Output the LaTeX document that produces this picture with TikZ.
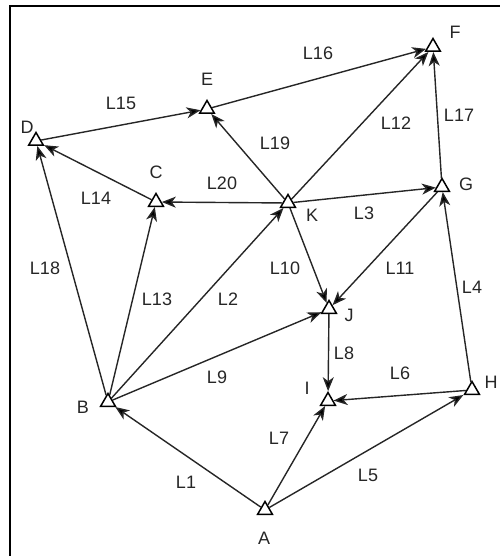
\documentclass[tikz,border=0pt]{standalone}
\usepackage{fontspec}
\setmainfont{Liberation Sans}
\usepackage{tikz}
\usetikzlibrary{arrows.meta,shapes.geometric}

\begin{document}
\begin{tikzpicture}[
  x=1pt, y=-1pt,
  every node/.style={font=\fontsize{18}{21}\selectfont},
  station/.style={regular polygon, regular polygon sides=3, draw=black, fill=white,
    line width=1.5pt, minimum size=17pt, inner sep=0pt},
  tag/.style={text=black!85, inner sep=1pt},
  link/.style={-{Stealth[length=14pt, width=11pt, inset=4pt, fill=black]}, line width=1.4pt, draw=black!85},
]
\useasboundingbox (0,0) rectangle (499,556);

% Frame
\draw[line width=2pt] (505,6) -- (10,6) -- (10,560);

% Stations
\node[station] (A) at (265,510) {};
\node[station] (B) at (108,402) {};
\node[station] (C) at (156,202) {};
\node[station] (D) at (36,141) {};
\node[station] (E) at (207,109) {};
\node[station] (F) at (433,47) {};
\node[station] (G) at (442,187) {};
\node[station] (H) at (472,390) {};
\node[station] (I) at (328,401) {};
\node[station] (J) at (329,309) {};
\node[station] (K) at (288,203) {};

% Station names
\node[tag] (nameA) at (264,538) {A};
\node[tag] (nameB) at (83,407) {B};
\node[tag] (nameC) at (156,172) {C};
\node[tag] (nameD) at (27,127) {D};
\node[tag] (nameE) at (207,79) {E};
\node[tag] (nameF) at (455,32) {F};
\node[tag] (nameG) at (466,184) {G};
\node[tag] (nameH) at (491,382) {H};
\node[tag] (nameI) at (307,388) {I};
\node[tag] (nameJ) at (349,315) {J};
\node[tag] (nameK) at (312,215) {K};

% Links
\draw[link] (A) -- (B);
\draw[link] (B) -- (K);
\draw[link] (K) -- (G);
\draw[link] (H) -- (G);
\draw[link] (A) -- (H);
\draw[link] (H) -- (I);
\draw[link] (A) -- (I);
\draw[link] (J) -- (I);
\draw[link] (B) -- (J);
\draw[link] (K) -- (J);
\draw[link] (G) -- (J);
\draw[link] (K) -- (F);
\draw[link] (B) -- (C);
\draw[link] (C) -- (D);
\draw[link] (D) -- (E);
\draw[link] (E) -- (F);
\draw[link] (G) -- (F);
\draw[link] (B) -- (D);
\draw[link] (K) -- (E);
\draw[link] (K) -- (C);

% Link labels
\node[tag] (lab1) at (186,482) {L1};
\node[tag] (lab2) at (228,299) {L2};
\node[tag] (lab3) at (364,213) {L3};
\node[tag] (lab4) at (472,287) {L4};
\node[tag] (lab5) at (368,475) {L5};
\node[tag] (lab6) at (400,373) {L6};
\node[tag] (lab7) at (279,438) {L7};
\node[tag] (lab8) at (344,353) {L8};
\node[tag] (lab9) at (217,377) {L9};
\node[tag] (lab10) at (285,268) {L10};
\node[tag] (lab11) at (400,268) {L11};
\node[tag] (lab12) at (396,123) {L12};
\node[tag] (lab13) at (157,299) {L13};
\node[tag] (lab14) at (96,198) {L14};
\node[tag] (lab15) at (121,103) {L15};
\node[tag] (lab16) at (318,53) {L16};
\node[tag] (lab17) at (459,115) {L17};
\node[tag] (lab18) at (45,268) {L18};
\node[tag] (lab19) at (275,143) {L19};
\node[tag] (lab20) at (222,183) {L20};
\end{tikzpicture}
\end{document}
